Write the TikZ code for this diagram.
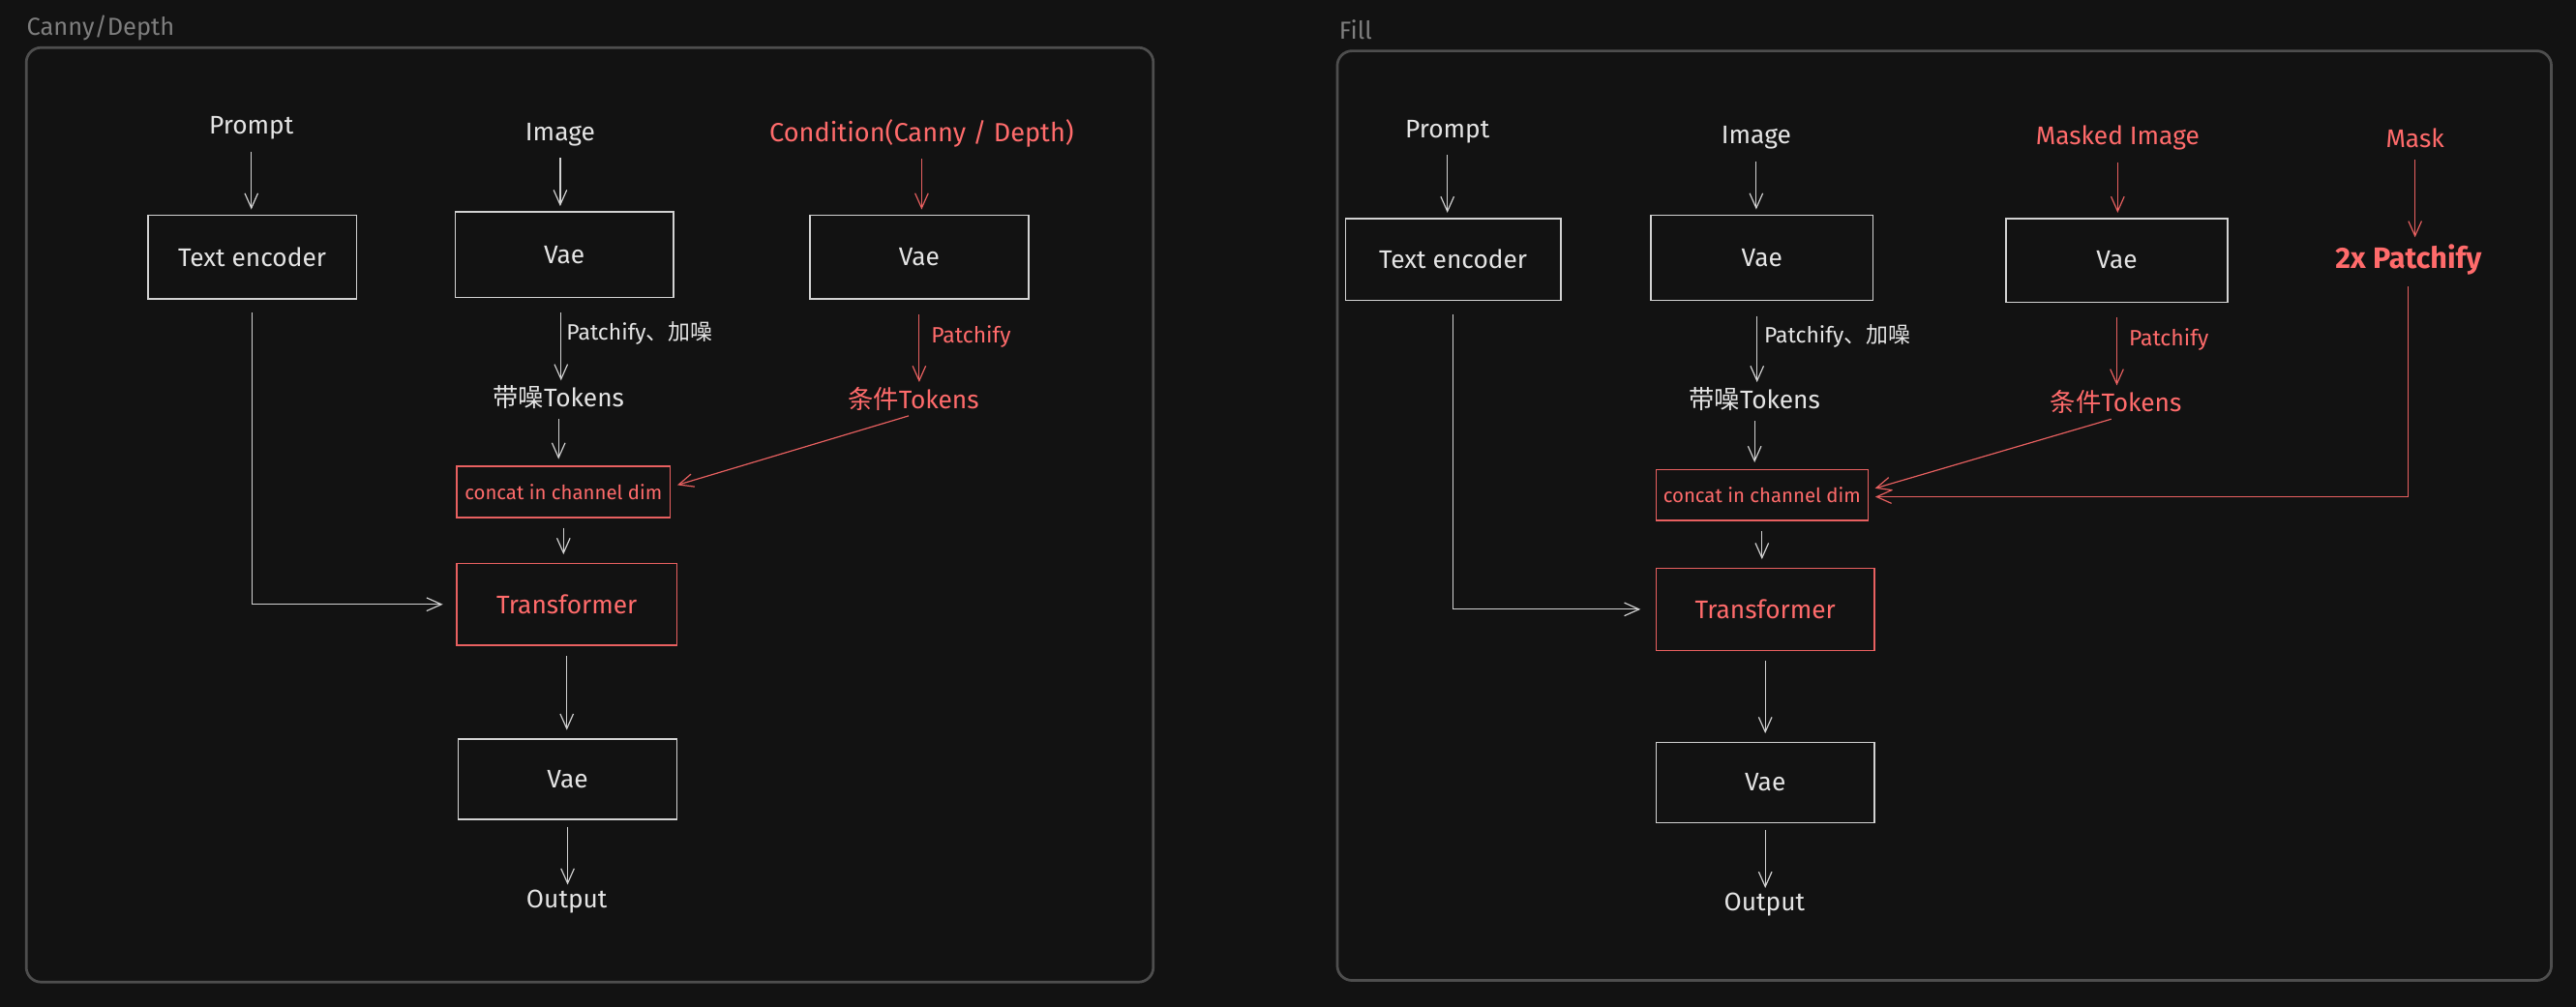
\documentclass[tikz,border=0pt]{standalone}
\usepackage{fontspec}
\setmainfont{Fira Sans}
\newfontfamily\cjkfont{Noto Sans CJK SC}
\usetikzlibrary{arrows.meta}
\definecolor{bgc}{HTML}{121212}
\definecolor{wtext}{HTML}{E4E4E4}
\definecolor{wline}{HTML}{D2D2D2}
\definecolor{rtext}{HTML}{FF6B6B}
\definecolor{rline}{HTML}{E86060}
\definecolor{framec}{HTML}{4E4E4E}
\definecolor{lblc}{HTML}{7E7E7E}
\tikzset{
  wtxt/.style={text=wtext, font=\fontsize{15.5}{18}\selectfont, inner sep=2pt},
  rtxt/.style={text=rtext, font=\fontsize{15.5}{18}\selectfont, inner sep=2pt},
  smw/.style={text=wtext, font=\fontsize{13.5}{15}\selectfont, inner sep=1pt, anchor=west},
  smr/.style={text=rtext, font=\fontsize{13.5}{15}\selectfont, inner sep=1pt, anchor=west},
  wbox/.style={draw=wline, line width=0.9pt, inner sep=0pt, text=wtext, font=\fontsize{15.5}{18}\selectfont},
  rbox/.style={draw=rline, line width=0.9pt, inner sep=0pt, text=rtext, font=\fontsize{15.5}{18}\selectfont},
  panel/.style={draw=framec, line width=1.6pt, rounded corners=9pt},
  plabel/.style={text=lblc, font=\fontsize{15}{17}\selectfont, anchor=west, inner sep=0pt},
  arr/.style={draw=wline, line width=0.7pt, -{Straight Barb[length=9pt,width=8pt]}, shorten <=5pt, shorten >=3pt},
  rarr/.style={draw=rline, line width=0.7pt, -{Straight Barb[length=9pt,width=8pt]}, shorten <=5pt, shorten >=3pt},
}
\begin{document}
\begin{tikzpicture}[x=1pt,y=-1pt]
\useasboundingbox (0,0) rectangle (1568,612.6);
\fill[bgc] (-10,-10) rectangle (1578,622);

% ---------------- Left panel ----------------
\node[plabel] (lbl1) at (16,17) {Canny/Depth};
\draw[panel] (16,29) rectangle (702,598);

\node[wtxt] (prompt1) at (153,78) {Prompt};
\node[wbox, minimum width=127pt, minimum height=51pt] (te1) at (153.5,156.5) {Text encoder};
\node[wtxt] (img1) at (341,82) {Image};
\node[wbox, minimum width=133pt, minimum height=52pt] (vae1a) at (343.5,155) {Vae};
\node[rtxt, font=\fontsize{16}{18}\selectfont] (cond1) at (561,81) {Condition(Canny / Depth)};
\node[wbox, minimum width=133pt, minimum height=51pt] (vae1b) at (559.5,156.5) {Vae};
\node[wtxt] (noisy1) at (340,242) {{\cjkfont 带噪}Tokens};
\node[rtxt] (ctok1) at (556,243) {{\cjkfont 条件}Tokens};
\node[rbox, minimum width=130pt, minimum height=31pt, font=\fontsize{12}{14}\selectfont] (concat1) at (343,299.5) {concat in channel dim};
\node[rbox, minimum width=134pt, minimum height=50pt] (tr1) at (345,368) {Transformer};
\node[wbox, minimum width=133pt, minimum height=49pt] (vae1c) at (345.5,474.5) {Vae};
\node[wtxt] (out1) at (345,549) {Output};

\draw[arr] (prompt1.south) -- (prompt1.south |- te1.north);
\draw[arr] (img1.south) -- (img1.south |- vae1a.north);
\draw[rarr] (cond1.south) -- (cond1.south |- vae1b.north);
\draw[arr, shorten <=9pt, shorten >=1pt] ([xshift=-2pt]vae1a.south) -- ([xshift=-2pt]vae1a.south |- noisy1.north)
  node[smw, pos=0.42, xshift=2pt] (pl1) {Patchify{\cjkfont 、加噪}};
\draw[rarr, shorten <=9pt, shorten >=1pt] (vae1b.south) -- (vae1b.south |- ctok1.north)
  node[smr, pos=0.44, xshift=6pt] (pr1) {Patchify};
\draw[arr, shorten <=4pt, shorten >=4pt] (noisy1.south) -- (noisy1.south |- concat1.north);
\draw[rarr, shorten <=3pt, shorten >=4pt] (ctok1.south) -- ([yshift=3pt]concat1.east);
\draw[arr, shorten <=6pt, shorten >=5pt] (concat1.south) -- (concat1.south |- tr1.north);
\draw[arr, shorten <=8pt, shorten >=8pt] (te1.south) |- (tr1.west);
\draw[arr, shorten <=6pt, shorten >=5pt] (tr1.south) -- (tr1.south |- vae1c.north);
\draw[arr, shorten <=4pt, shorten >=1pt] (vae1c.south) -- (vae1c.south |- out1.north);

% ---------------- Right panel ----------------
\node[plabel] (lbl2) at (815,18) {Fill};
\draw[panel] (814,31) rectangle (1553,597);

\node[wtxt] (prompt2) at (881,80) {Prompt};
\node[wbox, minimum width=131pt, minimum height=50pt] (te2) at (884.5,158) {Text encoder};
\node[wtxt] (img2) at (1069,84) {Image};
\node[wbox, minimum width=135pt, minimum height=52pt] (vae2a) at (1072.5,157) {Vae};
\node[rtxt] (masked2) at (1289,84) {Masked Image};
\node[wbox, minimum width=135pt, minimum height=51pt] (vae2b) at (1288.5,158.5) {Vae};
\node[rtxt] (mask2) at (1470,84) {Mask};
\node[rtxt, font=\fontsize{18}{20}\selectfont\bfseries] (patch2) at (1466,158) {2x Patchify};
\node[wtxt] (noisy2) at (1068,243) {{\cjkfont 带噪}Tokens};
\node[rtxt] (ctok2) at (1288,245) {{\cjkfont 条件}Tokens};
\node[rbox, minimum width=129pt, minimum height=31pt, font=\fontsize{12}{14}\selectfont] (concat2) at (1072.5,301.5) {concat in channel dim};
\node[rbox, minimum width=133pt, minimum height=50pt] (tr2) at (1074.5,371) {Transformer};
\node[wbox, minimum width=133pt, minimum height=49pt] (vae2c) at (1074.5,476.5) {Vae};
\node[wtxt] (out2) at (1074,551) {Output};

\draw[arr] (prompt2.south) -- (prompt2.south |- te2.north);
\draw[arr] (img2.south) -- (img2.south |- vae2a.north);
\draw[rarr] (masked2.south) -- (masked2.south |- vae2b.north);
\draw[rarr, shorten >=2pt] (mask2.south) -- (mask2.south |- patch2.north);
\draw[arr, shorten <=9pt, shorten >=1pt] ([xshift=-3pt]vae2a.south) -- ([xshift=-3pt]vae2a.south |- noisy2.north)
  node[smw, pos=0.42, xshift=3pt] (pl2) {Patchify{\cjkfont 、加噪}};
\draw[rarr, shorten <=9pt, shorten >=1pt] (vae2b.south) -- (vae2b.south |- ctok2.north)
  node[smr, pos=0.44, xshift=6pt] (pr2) {Patchify};
\draw[arr, shorten <=4pt, shorten >=4pt] (noisy2.south) -- (noisy2.south |- concat2.north);
\draw[rarr, shorten <=3pt, shorten >=4pt] (ctok2.south) -- ([yshift=3pt]concat2.east);
\draw[rarr, shorten <=5pt, shorten >=4pt] (patch2.south) |- ([yshift=-1pt]concat2.east);
\draw[arr, shorten <=6pt, shorten >=5pt] (concat2.south) -- (concat2.south |- tr2.north);
\draw[arr, shorten <=8pt, shorten >=9pt] (te2.south) |- (tr2.west);
\draw[arr, shorten <=6pt, shorten >=5pt] (tr2.south) -- (tr2.south |- vae2c.north);
\draw[arr, shorten <=4pt, shorten >=1pt] (vae2c.south) -- (vae2c.south |- out2.north);
\end{tikzpicture}
\end{document}
